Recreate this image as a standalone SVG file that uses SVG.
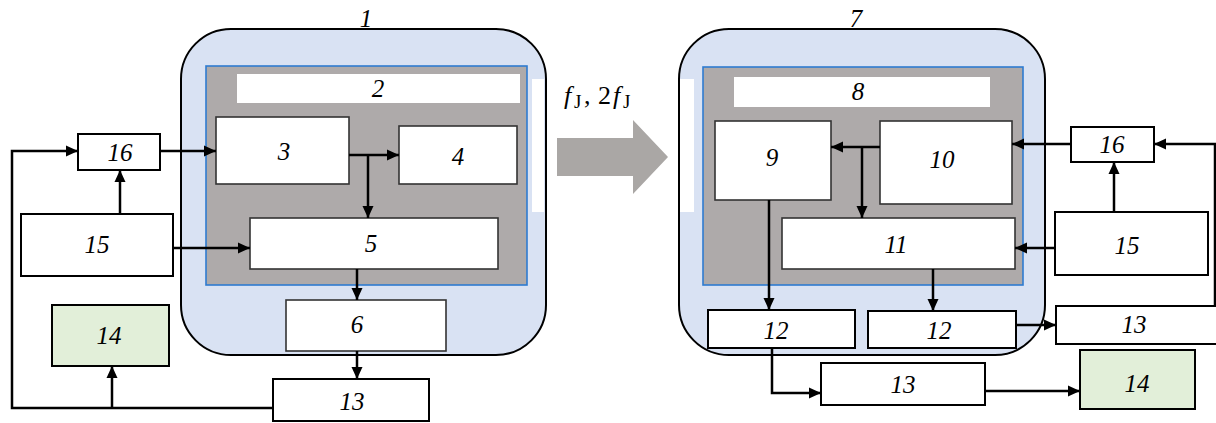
<svg xmlns="http://www.w3.org/2000/svg" width="1216" height="423" viewBox="0 0 1216 423">
<defs>
<style>
.outer{fill:#d9e2f3;stroke:#000;stroke-width:2}
.gray{fill:#aeaaaa;stroke:#2e7bd0;stroke-width:1.6}
.strip{fill:#fff;stroke:none}
.inner{fill:#fff;stroke:#333;stroke-width:1.6}
.box{fill:#fff;stroke:#000;stroke-width:2}
.green{fill:#e2efd9;stroke:#000;stroke-width:2}
.lbl{font-family:"Liberation Serif","DejaVu Serif",serif;font-style:italic;font-size:25px;fill:#000;text-anchor:middle;dominant-baseline:central}
.fj{font-family:"Liberation Serif","DejaVu Serif",serif;font-size:26px;fill:#000}
.conn{fill:none;stroke:#000;stroke-width:2.5}
</style>
<marker id="ah" markerUnits="userSpaceOnUse" markerWidth="13" markerHeight="12" refX="12" refY="6" orient="auto">
<path d="M0,0.5 L12,6 L0,11.5 z" fill="#000"/>
</marker>
</defs>
<rect width="1216" height="423" fill="#fff"/>

<g id="n1">
<rect class="outer" x="181" y="29" width="365" height="326" rx="50" ry="50"/>
<rect class="strip" x="532" y="79" width="12" height="133"/>
<text class="lbl" x="366" y="18">1</text>
</g>
<g id="n1-inner">
<rect class="gray" x="206" y="66" width="321" height="219"/>
</g>
<g id="n2"><rect class="strip" x="237" y="74" width="283" height="29"/><text class="lbl" x="378" y="88">2</text></g>
<g id="n3"><rect class="inner" x="216" y="117" width="133" height="67"/><text class="lbl" x="284" y="151">3</text></g>
<g id="n4"><rect class="inner" x="399" y="126" width="118" height="58"/><text class="lbl" x="458" y="156">4</text></g>
<g id="n5"><rect class="inner" x="250" y="218" width="248" height="51"/><text class="lbl" x="371" y="243">5</text></g>
<g id="n6"><rect class="inner" x="286" y="300" width="160" height="51"/><text class="lbl" x="357" y="324">6</text></g>
<g id="n13a"><rect class="box" x="273" y="379" width="156" height="42"/><text class="lbl" x="352" y="401">13</text></g>
<g id="n16a"><rect class="box" x="78" y="134" width="82" height="36"/><text class="lbl" x="120" y="152">16</text></g>
<g id="n15a"><rect class="box" x="21" y="214" width="152" height="62"/><text class="lbl" x="97" y="244">15</text></g>
<g id="n14a"><rect class="green" x="52" y="305" width="117" height="61"/><text class="lbl" x="109" y="335">14</text></g>

<g id="transfer">
<path d="M557,138 L633,138 L633,120 L668,157 L633,194 L633,176 L557,176 z" fill="#aaa7a5"/>
<text class="fj" y="104"><tspan x="564" font-style="italic">f</tspan><tspan x="574" font-size="19" dy="4">J</tspan><tspan x="584" dy="-4">,</tspan><tspan x="598">2</tspan><tspan x="613" font-style="italic">f</tspan><tspan x="623" font-size="19" dy="4">J</tspan></text>
</g>

<g id="n7">
<rect class="outer" x="679" y="29" width="366" height="326" rx="50" ry="50"/>
<rect class="strip" x="680" y="79" width="14" height="133"/>
<text class="lbl" x="856" y="18">7</text>
</g>
<g id="n7-inner">
<rect class="gray" x="703" y="67" width="320" height="218"/>
</g>
<g id="n8"><rect class="strip" x="734" y="77" width="256" height="30"/><text class="lbl" x="858" y="91">8</text></g>
<g id="n9"><rect class="inner" x="715" y="121" width="116" height="79"/><text class="lbl" x="772" y="157">9</text></g>
<g id="n10"><rect class="inner" x="880" y="121" width="132" height="83"/><text class="lbl" x="942" y="159">10</text></g>
<g id="n11"><rect class="inner" x="782" y="218" width="233" height="51"/><text class="lbl" x="896" y="244">11</text></g>
<g id="n12a"><rect class="box" x="708" y="310" width="147" height="38"/><text class="lbl" x="776" y="330">12</text></g>
<g id="n12b"><rect class="box" x="868" y="311" width="148" height="37"/><text class="lbl" x="939" y="330">12</text></g>
<g id="n13b"><rect class="box" x="1056" y="306" width="162" height="38"/><text class="lbl" x="1134" y="324">13</text></g>
<g id="n13c"><rect class="box" x="821" y="363" width="164" height="42"/><text class="lbl" x="903" y="384">13</text></g>
<g id="n14b"><rect class="green" x="1080" y="350" width="115" height="59"/><text class="lbl" x="1137" y="383">14</text></g>
<g id="n15b"><rect class="box" x="1055" y="212" width="153" height="63"/><text class="lbl" x="1127" y="245">15</text></g>
<g id="n16b"><rect class="box" x="1071" y="127" width="83" height="35"/><text class="lbl" x="1112" y="144">16</text></g>

<g id="connectors">
<path class="conn" d="M273,408 L12,408 L12,151 L78,151" marker-end="url(#ah)"/>
<path class="conn" d="M112,408 L112,366" marker-end="url(#ah)"/>
<path class="conn" d="M160,151 L216,151" marker-end="url(#ah)"/>
<path class="conn" d="M120,214 L120,170" marker-end="url(#ah)"/>
<path class="conn" d="M349,155 L399,155" marker-end="url(#ah)"/>
<path class="conn" d="M368,155 L368,218" marker-end="url(#ah)"/>
<path class="conn" d="M173,248 L250,248" marker-end="url(#ah)"/>
<path class="conn" d="M357,269 L357,300" marker-end="url(#ah)"/>
<path class="conn" d="M357,351 L357,379" marker-end="url(#ah)"/>
<path class="conn" d="M1071,144 L1012,144" marker-end="url(#ah)"/>
<path class="conn" d="M1215,306 L1215,144 L1154,144" marker-end="url(#ah)"/>
<path class="conn" d="M1114,212 L1114,162" marker-end="url(#ah)"/>
<path class="conn" d="M880,147 L831,147" marker-end="url(#ah)"/>
<path class="conn" d="M862,147 L862,218" marker-end="url(#ah)"/>
<path class="conn" d="M1055,248 L1015,248" marker-end="url(#ah)"/>
<path class="conn" d="M769,200 L769,310" marker-end="url(#ah)"/>
<path class="conn" d="M933,269 L933,311" marker-end="url(#ah)"/>
<path class="conn" d="M1016,325 L1056,325" marker-end="url(#ah)"/>
<path class="conn" d="M772,348 L772,393 L821,393" marker-end="url(#ah)"/>
<path class="conn" d="M985,391 L1080,391" marker-end="url(#ah)"/>
</g>
</svg>
